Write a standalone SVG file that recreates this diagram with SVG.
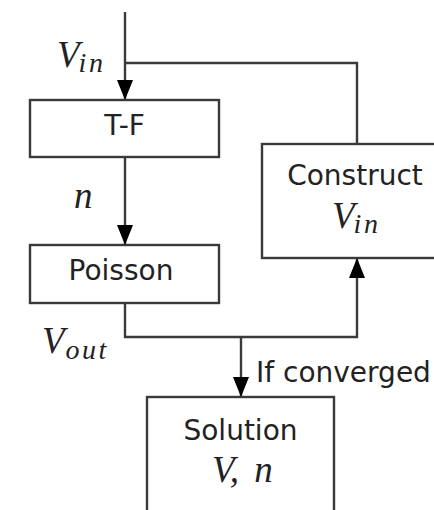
<svg xmlns="http://www.w3.org/2000/svg" width="434" height="510" viewBox="0 0 434 510">
  <style>
    .box { fill: #ffffff; stroke: #3a3a3a; stroke-width: 2.4; }
    .wire { fill: none; stroke: #3a3a3a; stroke-width: 2.4; }
    .lbl { font-family: "DejaVu Sans", sans-serif; font-size: 28px; fill: #222; text-anchor: middle; }
    .math { font-family: "Liberation Serif", serif; font-style: italic; font-size: 37px; fill: #222; }
    .sub { font-size: 28px; letter-spacing: 2.5px; }
  </style>
  <defs>
    <marker id="head" viewBox="0 0 20 16" refX="20" refY="8" markerWidth="20" markerHeight="16" markerUnits="userSpaceOnUse" orient="auto">
      <path d="M0,0 L20,8 L0,16 Z" fill="#000"/>
    </marker>
  </defs>

  <!-- connectors -->
  <g id="connectors">
    <path class="wire" d="M125,12 L125,100" marker-end="url(#head)"/>
    <path class="wire" d="M125,63 L357,63 L357,144"/>
    <path class="wire" d="M125,157 L125,245" marker-end="url(#head)"/>
    <path class="wire" d="M125,303 L125,337 L357,337 L357,258" marker-end="url(#head)"/>
    <path class="wire" d="M241,337 L241,397" marker-end="url(#head)"/>
    <text class="lbl" x="256" y="382" style="text-anchor:start">If converged</text>
    <text class="math" x="57" y="67">V<tspan class="sub" dx="-1" dy="5">in</tspan></text>
    <text class="math" x="74" y="208">n</text>
    <text class="math" x="42" y="353">V<tspan class="sub" dx="1" dy="6">out</tspan></text>
  </g>

  <g id="tf">
    <rect class="box" x="30" y="100" width="189" height="57"/>
    <text class="lbl" x="124.5" y="135">T-F</text>
  </g>

  <g id="poisson">
    <rect class="box" x="30" y="245" width="189" height="58"/>
    <text class="lbl" x="121" y="280">Poisson</text>
  </g>

  <g id="construct">
    <rect class="box" x="262" y="144" width="190" height="114"/>
    <text class="lbl" x="355" y="185">Construct</text>
    <text class="math" x="332" y="228">V<tspan class="sub" dx="-1" dy="5">in</tspan></text>
  </g>

  <g id="solution">
    <rect class="box" x="147" y="397" width="187" height="130"/>
    <text class="lbl" x="240.5" y="440">Solution</text>
    <text class="math" x="212" y="482" style="word-spacing:6px">V, n</text>
  </g>
</svg>
